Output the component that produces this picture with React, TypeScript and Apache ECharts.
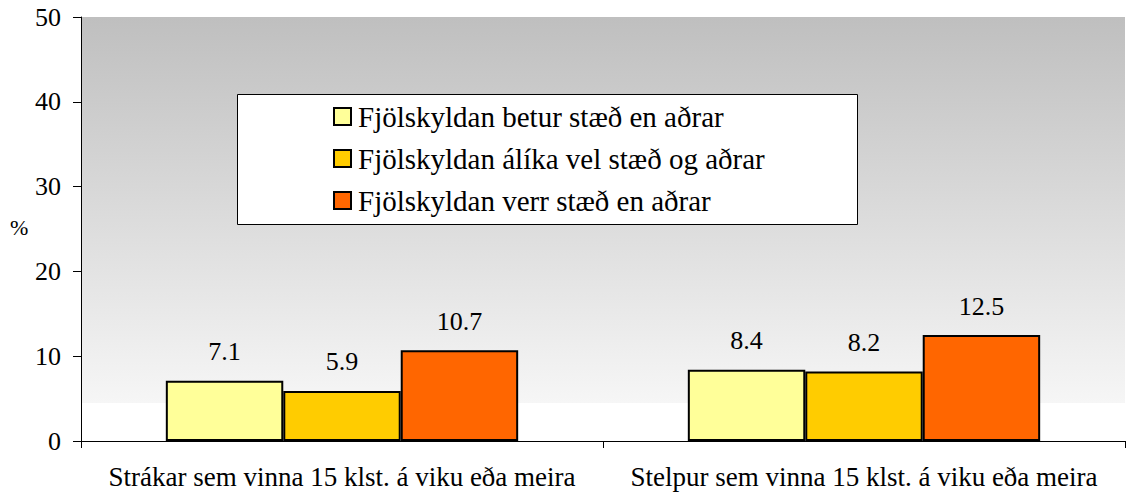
import React, { useEffect, useRef } from "react";
import * as echarts from "echarts";

const categories = [
  "Strákar sem vinna 15 klst. á viku eða meira",
  "Stelpur sem vinna 15 klst. á viku eða meira",
];
const seriesNames = [
  "Fjölskyldan betur stæð en aðrar",
  "Fjölskyldan álíka vel stæð og aðrar",
  "Fjölskyldan verr stæð en aðrar",
];
const betur = [7.1, 8.4];
const alika = [5.9, 8.2];
const verr = [10.7, 12.5];
const colors = ["#ffff99", "#ffcc00", "#ff6600"];
const yTicks = [0, 10, 20, 30, 40, 50];

export default function App() {
  const ref = useRef<HTMLDivElement>(null);
  useEffect(() => {
    if (!ref.current) return;
    const chart = echarts.init(ref.current, undefined, { renderer: "svg" });
    const font = "'Liberation Serif', 'Times New Roman', serif";
    const values = [betur, alika, verr];
    chart.setOption({
      animation: false,
      textStyle: { fontFamily: font, color: "#000" },
      grid: {
        left: 81,
        right: 3,
        top: 17,
        bottom: 53,
        show: true,
        borderWidth: 0,
        backgroundColor: new echarts.graphic.LinearGradient(0, 0, 0, 1, [
          { offset: 0, color: "#bfbfbf" },
          { offset: 0.91, color: "#f6f6f6" },
          { offset: 0.9101, color: "#ffffff" },
          { offset: 1, color: "#ffffff" },
        ]),
      },
      legend: {
        orient: "vertical",
        left: 333,
        top: 102,
        z: 20,
        itemWidth: 17,
        itemHeight: 17,
        itemGap: 13,
        padding: 0,
        icon: "rect",
        textStyle: { fontFamily: font, fontSize: 29, color: "#000", padding: [0, 0, 0, 2] },
        data: seriesNames.map((n, i) => ({
          name: n,
          itemStyle: { color: colors[i], borderColor: "#000", borderWidth: 2 },
        })),
      },
      graphic: [
        {
          type: "rect",
          z: 5,
          shape: { x: 237.5, y: 94.5, width: 620, height: 130 },
          style: { fill: "#fff", stroke: "#000", lineWidth: 1 },
        },
        {
          type: "text",
          left: 10,
          top: 216,
          style: { text: "%", fontFamily: font, fontSize: 22, fill: "#000" },
        },
      ],
      xAxis: {
        type: "category",
        data: categories,
        axisLine: { lineStyle: { color: "#000", width: 1 } },
        axisTick: { show: true, length: 7, lineStyle: { color: "#000" } },
        axisLabel: { interval: 0, hideOverlap: false, fontFamily: font, fontSize: 27, color: "#000", margin: 22 },
      },
      yAxis: {
        type: "value",
        min: 0,
        max: 50,
        interval: 10,
        splitLine: { show: false },
        axisLine: { show: true, lineStyle: { color: "#000", width: 1 } },
        axisTick: { show: true, length: 8, lineStyle: { color: "#000" } },
        axisLabel: {
          fontFamily: font,
          fontSize: 26,
          color: "#000",
          margin: 20,
          formatter: (v: number) => (yTicks.includes(v) ? String(v) : ""),
        },
      },
      series: seriesNames.map((n, i) => ({
        name: n,
        type: "bar",
        data: values[i],
        barGap: "0%",
        barCategoryGap: "32.5%",
        itemStyle: { color: colors[i], borderColor: "#000", borderWidth: 2 },
        label: {
          show: true,
          position: "top",
          distance: 16,
          fontFamily: font,
          fontSize: 26,
          color: "#000",
          formatter: (p: any) => p.value.toFixed(1),
        },
      })),
    });
    return () => chart.dispose();
  }, []);
  return <div ref={ref} style={{ width: 1128, height: 494, position: "absolute", left: 0, top: 0 }} />;
}
